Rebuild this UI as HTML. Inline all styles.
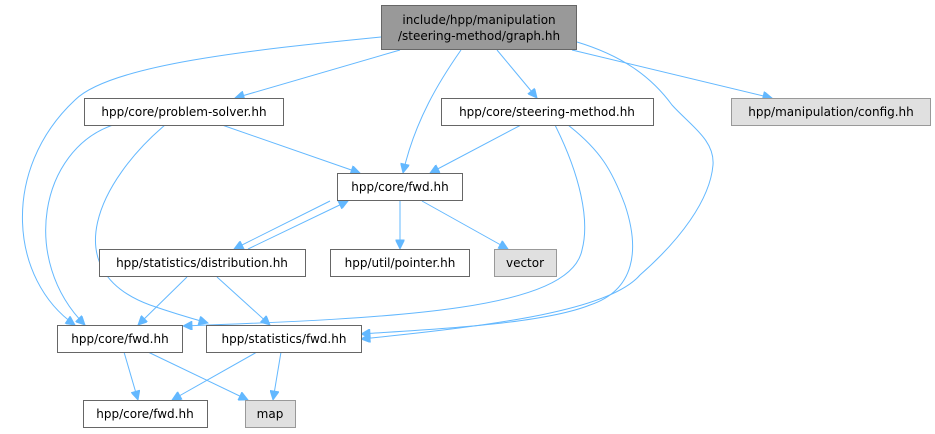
<!DOCTYPE html>
<html><head><meta charset="utf-8"><style>
html,body{margin:0;padding:0;background:#fff;width:935px;height:434px;overflow:hidden}
svg{display:block}
text{font-family:"DejaVu Sans","Liberation Sans",sans-serif;font-size:12px;fill:#000;text-anchor:middle}
.n{fill:#fff;stroke:#666;stroke-width:1}
.g{fill:#e0e0e0;stroke:#999;stroke-width:1}
.r{fill:#999;stroke:#666;stroke-width:1}
.e{fill:none;stroke:#63b8ff;stroke-width:1;marker-end:url(#a)}
</style></head><body>
<svg width="935" height="434" viewBox="0 0 935 434">
<defs><marker id="a" viewBox="0 0 10 10" refX="10" refY="5" markerWidth="11" markerHeight="9" markerUnits="userSpaceOnUse" orient="auto"><path d="M0,0 L10,5 L0,10 z" fill="#63b8ff" stroke="#63b8ff"/></marker></defs>
<!-- edges -->
<path class="e" d="M400,50 L235,98"/>
<path class="e" d="M461,50 C440,80 415,120 403,173"/>
<path class="e" d="M497,50 L537,98"/>
<path class="e" d="M572,50 L772,98"/>
<path class="e" d="M381,37 C250,50 110,65 75,100 C0,170 10,280 75,325"/>
<path class="e" d="M577,42 C620,55 650,75 672,105 C690,125 715,140 713,165 C710,200 680,240 640,275 C610,310 500,325 361,339"/>
<path class="e" d="M521,125 L430,173"/>
<path class="e" d="M555,125 C580,175 590,220 582,250 C570,310 400,318 183,326"/>
<path class="e" d="M568,125 C600,150 612,170 625,205 C640,250 635,290 590,305 C540,325 420,330 361,334"/>
<path class="e" d="M222,125 L360,173"/>
<path class="e" d="M113,125 C40,150 20,260 85,325"/>
<path class="e" d="M165,125 C100,180 55,270 150,305 C170,312 190,318 208,323"/>
<path class="e" d="M330,201 L234,249"/>
<path class="e" d="M248,249 L348,201"/>
<path class="e" d="M400,201 L400,249"/>
<path class="e" d="M422,201 L508,249"/>
<path class="e" d="M187,277 L138,325"/>
<path class="e" d="M217,277 L270,325"/>
<path class="e" d="M124,352 L138,400"/>
<path class="e" d="M148,352 L248,400"/>
<path class="e" d="M257,352 L172,400"/>
<path class="e" d="M281,352 L273,400"/>
<!-- nodes -->
<rect class="r" x="381.5" y="5.5" width="195" height="44"/>
<text x="479" y="24">include/hpp/manipulation</text>
<text x="479" y="40">/steering-method/graph.hh</text>
<rect class="n" x="84.5" y="98.5" width="199" height="27"/><text x="184" y="116">hpp/core/problem-solver.hh</text>
<rect class="n" x="441.5" y="98.5" width="212" height="27"/><text x="547" y="116">hpp/core/steering-method.hh</text>
<rect class="g" x="731.5" y="98.5" width="199" height="27"/><text x="831" y="116">hpp/manipulation/config.hh</text>
<rect class="n" x="337.5" y="173.5" width="125" height="27"/><text x="400" y="191">hpp/core/fwd.hh</text>
<rect class="n" x="99.5" y="249.5" width="206" height="27"/><text x="202" y="267">hpp/statistics/distribution.hh</text>
<rect class="n" x="330.5" y="249.5" width="139" height="27"/><text x="400" y="267">hpp/util/pointer.hh</text>
<rect class="g" x="494.5" y="249.5" width="62" height="27"/><text x="525" y="267">vector</text>
<rect class="n" x="57.5" y="325.5" width="125" height="27"/><text x="120" y="343">hpp/core/fwd.hh</text>
<rect class="n" x="206.5" y="325.5" width="155" height="27"/><text x="284" y="343">hpp/statistics/fwd.hh</text>
<rect class="n" x="83.5" y="400.5" width="124" height="27"/><text x="145" y="418">hpp/core/fwd.hh</text>
<rect class="g" x="245.5" y="400.5" width="50" height="27"/><text x="270" y="418">map</text>
</svg>
</body></html>
